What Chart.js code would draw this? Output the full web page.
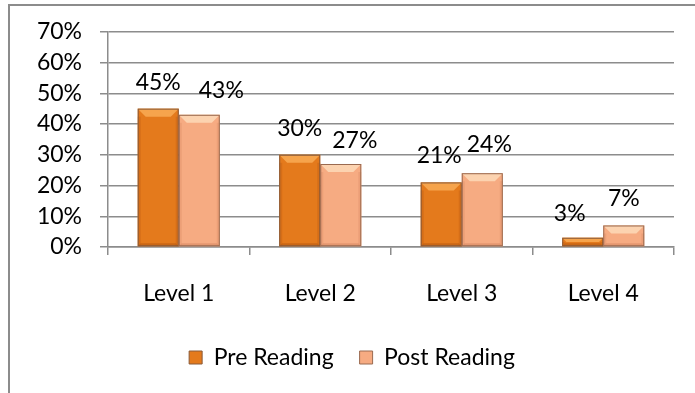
<!DOCTYPE html>
<html>
<head>
<meta charset="utf-8">
<script src="https://cdn.jsdelivr.net/npm/chart.js@4"></script>
<style>
    html, body { margin: 0; padding: 0; background: #fff; }
    #frame {
        position: absolute;
        left: 8px; top: 4px; width: 700px; height: 400px;
        border-top: 2px solid #8c8c8c;
        border-left: 2px solid #8c8c8c;
    }
    #wrap { position: absolute; left: 0; top: 0; width: 695px; height: 393px; }
</style>
</head>
<body>
<div id="frame"></div>
<div id="wrap"><canvas id="chart"></canvas></div>
<script>
// Reading levels, before and after the programme (percent of students)
const levels = ['Level 1', 'Level 2', 'Level 3', 'Level 4'];
const preReading = [45, 30, 21, 3];
const postReading = [43, 27, 24, 7];
const seriesNames = ['Pre Reading', 'Post Reading'];

const FONT = 'Lato, "Open Sans", sans-serif';
const FONT_SIZE = 23;

// Face / bevel shades for each series
const shades = [
    { face: '#e47a1c', light: '#f6a44c', dark: '#b95a10', edge: '#8a5a38' },
    { face: '#f6ab82', light: '#fcd3b0', dark: '#d98a64', edge: '#9a6a50' }
];

// Nudges for the value labels so they sit like the original layout
const labelShift = [
    [[0, 0], [22, 2]],
    [[0, 0], [14, 3]],
    [[-2, 0], [7, -2]],
    [[-13, 2], [0, 0]]
];

// Draws the bevelled look of each bar on top of its flat face
const bevelBars = {
    id: 'bevelBars',
    afterDatasetsDraw(chart) {
        const ctx = chart.ctx;
        chart.data.datasets.forEach((ds, di) => {
            const s = shades[di];
            chart.getDatasetMeta(di).data.forEach(bar => {
                const l = bar.x - bar.width / 2, r = bar.x + bar.width / 2;
                const t = bar.y, b = bar.base;
                const h = b - t;
                const bv = Math.min(8, h / 2);
                ctx.save();
                // top bevel
                ctx.fillStyle = s.light;
                ctx.beginPath();
                ctx.moveTo(l, t); ctx.lineTo(r, t);
                ctx.lineTo(r - bv, t + bv); ctx.lineTo(l + bv, t + bv);
                ctx.closePath(); ctx.fill();
                // bottom bevel
                ctx.fillStyle = s.dark;
                ctx.globalAlpha = 0.6;
                ctx.beginPath();
                ctx.moveTo(l, b); ctx.lineTo(r, b);
                ctx.lineTo(r - 3, b - 3); ctx.lineTo(l + 3, b - 3);
                ctx.closePath(); ctx.fill();
                // side bevels
                ctx.globalAlpha = 0.35;
                ctx.fillRect(l, t + bv, 3, h - bv);
                ctx.fillRect(r - 3, t + bv, 3, h - bv);
                ctx.globalAlpha = 1;
                ctx.strokeStyle = s.edge;
                ctx.lineWidth = 1;
                ctx.strokeRect(l + 0.5, t + 0.5, bar.width - 1, h - 1);
                ctx.restore();
            });
        });
    }
};

// Percent labels above each bar
const valueLabels = {
    id: 'valueLabels',
    afterDatasetsDraw(chart) {
        const ctx = chart.ctx;
        ctx.save();
        ctx.font = FONT_SIZE + 'px ' + FONT;
        ctx.fillStyle = '#000';
        ctx.textAlign = 'center';
        ctx.textBaseline = 'alphabetic';
        chart.data.datasets.forEach((ds, di) => {
            chart.getDatasetMeta(di).data.forEach((bar, i) => {
                const [dx, dy] = labelShift[i][di];
                ctx.fillText(ds.data[i] + '%', bar.x + dx, bar.y - 19 + dy);
            });
        });
        ctx.restore();
    }
};

new Chart(document.getElementById('chart'), {
    type: 'bar',
    data: {
        labels: levels,
        datasets: [
            { label: seriesNames[0], data: preReading, backgroundColor: shades[0].face },
            { label: seriesNames[1], data: postReading, backgroundColor: shades[1].face }
        ]
    },
    options: {
        responsive: true,
        maintainAspectRatio: false,
        animation: false,
        layout: { padding: { left: 30, right: 21, top: 25, bottom: 14 } },
        datasets: {
            bar: { categoryPercentage: 0.58, barPercentage: 1, borderWidth: 0 }
        },
        plugins: {
            legend: {
                position: 'bottom',
                labels: {
                    font: { family: FONT, size: FONT_SIZE },
                    color: '#000',
                    boxWidth: 13,
                    boxHeight: 13,
                    padding: 26,
                    generateLabels(chart) {
                        return chart.data.datasets.map((ds, i) => ({
                            text: ds.label,
                            fillStyle: shades[i].face,
                            strokeStyle: shades[i].edge,
                            lineWidth: 1,
                            fontColor: '#000',
                            datasetIndex: i
                        }));
                    }
                }
            },
            tooltip: { enabled: false }
        },
        scales: {
            x: {
                grid: {
                    offset: true,
                    drawOnChartArea: false,
                    color: '#8c8c8c',
                    lineWidth: 1.5,
                    tickLength: 8
                },
                border: { color: '#8c8c8c', width: 1.5 },
                ticks: {
                    color: '#000',
                    font: { family: FONT, size: FONT_SIZE },
                    padding: 25
                },
                afterFit(scale) { scale.height = 73; }
            },
            y: {
                min: 0,
                max: 70,
                ticks: {
                    stepSize: 10,
                    color: '#000',
                    font: { family: FONT, size: FONT_SIZE },
                    padding: 18,
                    callback: v => v + '%'
                },
                grid: { color: '#8c8c8c', lineWidth: 1.5, tickLength: 8 },
                border: { color: '#8c8c8c', width: 1.5 },
                afterFit(scale) { scale.width = 78; }
            }
        }
    },
    plugins: [bevelBars, valueLabels]
});
</script>
</body>
</html>
